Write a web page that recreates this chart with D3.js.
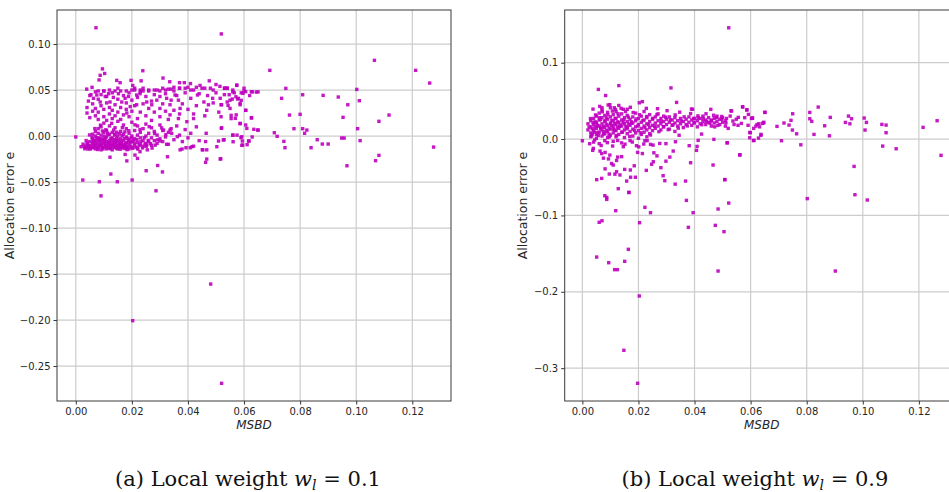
<!DOCTYPE html>
<html>
<head>
<meta charset="utf-8">
<script src="https://cdn.jsdelivr.net/npm/d3@7"></script>
<style>
  body { margin: 0; background: #fff; }
  svg { display: block; }
</style>
</head>
<body>
<script>
// ---- data: [MSBD, allocation error e] ----

// (a) local weight 0.1
var coreA = [
  [0.0019,-0.0116],[0.003,-0.011],[0.004,-0.012],[0.004,-0.009],[0.005,-0.013],[0.005,-0.010],[0.005,-0.006],[0.006,-0.012],[0.006,-0.008],[0.006,-0.003],[0.006,0.002],
  [0.007,-0.014],[0.007,-0.010],[0.007,-0.005],[0.007,0.000],[0.007,0.005],[0.008,-0.013],[0.008,-0.009],[0.008,-0.006],[0.008,-0.002],[0.008,0.003],[0.008,0.008],
  [0.009,-0.015],[0.009,-0.011],[0.009,-0.007],[0.009,-0.003],[0.009,0.001],[0.009,0.010],[0.010,-0.012],[0.010,-0.008],[0.010,-0.004],[0.010,0.000],[0.010,0.004],[0.010,0.014],
  [0.011,-0.014],[0.011,-0.010],[0.011,-0.006],[0.011,-0.001],[0.011,0.006],[0.012,-0.013],[0.012,-0.009],[0.012,-0.005],[0.012,0.002],[0.012,0.011],
  [0.013,-0.015],[0.013,-0.011],[0.013,-0.007],[0.013,-0.002],[0.013,0.004],[0.014,-0.012],[0.014,-0.008],[0.014,-0.004],[0.014,0.001],[0.014,0.009],
  [0.015,-0.014],[0.015,-0.010],[0.015,-0.006],[0.015,0.000],[0.015,0.016],[0.016,-0.012],[0.016,-0.008],[0.016,-0.003],[0.016,0.005],
  [0.017,-0.013],[0.017,-0.009],[0.017,-0.005],[0.017,0.002],[0.017,0.012],[0.018,-0.011],[0.018,-0.007],[0.018,-0.001],[0.018,0.008],
  [0.019,-0.014],[0.019,-0.009],[0.019,-0.004],[0.019,0.003],[0.020,-0.012],[0.020,-0.006],[0.020,0.000],[0.020,0.015],
  [0.021,-0.010],[0.021,-0.003],[0.021,0.006],[0.022,-0.013],[0.022,-0.007],[0.022,0.001],[0.022,0.011],[0.023,-0.009],[0.023,-0.002],[0.023,0.004],
  [0.024,-0.011],[0.024,-0.005],[0.024,0.008],[0.025,-0.008],[0.025,0.000],[0.025,0.013],[0.026,-0.006],[0.026,0.003],[0.027,-0.010],[0.027,-0.002],[0.027,0.009],
  [0.028,-0.005],[0.028,0.005],[0.029,-0.008],[0.029,0.001],[0.030,-0.003],[0.030,0.012],[0.031,-0.006],[0.031,0.006],[0.032,-0.001],[0.033,-0.009],[0.033,0.004],
  [0.034,0.008],[0.035,-0.004],[0.036,0.011],[0.037,0.001],[0.038,-0.006],[0.039,0.007],[0.040,-0.002],[0.041,0.003],[0.042,-0.011],[0.043,0.010],[0.044,-0.005],
  [0.0045,-0.0105],[0.0055,-0.0115],[0.0065,-0.0095],[0.0075,-0.0125],[0.0085,-0.0105],[0.0095,-0.0125],[0.0105,-0.0095],[0.0115,-0.0125],[0.0125,-0.0105],
  [0.0135,-0.0095],[0.0145,-0.0135],[0.0155,-0.0115],[0.0165,-0.0105],[0.0175,-0.0115],[0.0185,-0.0125],[0.0065,-0.0045],[0.0085,-0.0045],[0.0105,-0.0025],
  [0.0125,-0.0025],[0.0145,-0.0025],[0.0165,0.0005],[0.0185,-0.0025],[0.0205,-0.0045],[0.0095,0.0055],[0.0135,0.0065],[0.0175,0.0045],[0.0115,0.0015],[0.0155,0.0025]
];

var fillA = [
  [0.0032,-0.0138],[0.0041,-0.0072],[0.0052,-0.0141],[0.0058,-0.0017],[0.0063,-0.0128],[0.0071,-0.0079],[0.0078,-0.0146],[0.0082,-0.0031],[0.0091,-0.0089],
  [0.0097,-0.0141],[0.0102,-0.0058],[0.0108,-0.0116],[0.0113,0.0031],[0.0119,-0.0071],[0.0124,-0.0138],[0.0131,-0.0049],[0.0137,-0.0122],[0.0142,-0.0066],
  [0.0148,-0.0098],[0.0153,-0.0041],[0.0159,-0.0143],[0.0163,-0.0062],[0.0169,-0.0119],[0.0173,-0.0027],[0.0178,-0.0086],[0.0183,-0.0148],[0.0188,-0.0058],
  [0.0194,-0.0109],[0.0198,-0.0019],[0.0203,-0.0134],[0.0209,-0.0077],[0.0214,-0.0121],[0.0218,-0.0038],[0.0226,-0.0102],[0.0232,-0.0061],[0.0238,-0.0129],
  [0.0244,-0.0018],[0.0251,-0.0112],[0.0258,-0.0047],[0.0266,-0.0083],[0.0272,-0.0131],[0.0283,-0.0099],[0.0291,-0.0041],[0.0037,-0.0049],[0.0049,0.0012],
  [0.0068,0.0081],[0.0088,0.0118],[0.0107,0.0068],[0.0128,0.0138],[0.0146,0.0042],[0.0166,0.0091],[0.0189,0.0058],[0.0211,0.0122],[0.0229,0.0071],[0.0262,0.0102],
  [0.0281,0.0028],[0.0306,0.0089],[0.0321,0.0015],[0.0026,-0.0088],[0.0034,-0.0122],[0.0043,-0.0141],[0.0061,-0.0061],[0.0074,-0.0021],[0.0094,-0.0039],
  [0.0116,-0.0083],[0.0138,0.0021],[0.0157,-0.0079],[0.0176,-0.0137],[0.0196,-0.0066],[0.0221,-0.0141],[0.0247,-0.0087]
];

var upperA = [
  [0.004,0.025],[0.004,0.031],[0.005,0.020],[0.005,0.044],[0.006,0.027],[0.006,0.035],[0.007,0.022],[0.007,0.030],[0.007,0.048],[0.008,0.018],[0.008,0.026],[0.008,0.040],
  [0.009,0.033],[0.009,0.045],[0.010,0.021],[0.010,0.029],[0.010,0.049],[0.011,0.017],[0.011,0.036],[0.011,0.043],[0.012,0.024],[0.012,0.031],[0.013,0.019],[0.013,0.028],
  [0.013,0.047],[0.014,0.034],[0.014,0.022],[0.015,0.040],[0.015,0.026],[0.016,0.018],[0.016,0.031],[0.016,0.049],[0.017,0.023],[0.017,0.044],[0.018,0.029],[0.018,0.036],
  [0.019,0.021],[0.019,0.047],[0.020,0.027],[0.020,0.039],[0.021,0.033],[0.021,0.050],[0.022,0.019],[0.022,0.042],[0.023,0.026],[0.023,0.048],[0.024,0.035],[0.024,0.052],
  [0.025,0.022],[0.025,0.043],[0.026,0.030],[0.026,0.049],[0.027,0.017],[0.027,0.038],[0.028,0.045],[0.028,0.026],[0.029,0.050],[0.030,0.021],[0.030,0.043],[0.031,0.035],
  [0.031,0.052],[0.032,0.027],[0.032,0.046],[0.033,0.018],[0.033,0.051],[0.034,0.039],[0.035,0.028],[0.035,0.049],[0.036,0.044],[0.037,0.024],[0.037,0.052],[0.038,0.035],
  [0.039,0.047],[0.040,0.029],[0.040,0.053],[0.041,0.041],[0.042,0.024],[0.042,0.050],[0.043,0.033],[0.044,0.046],[0.045,0.052],[0.046,0.022],[0.047,0.044],[0.048,0.052],
  [0.049,0.036],[0.050,0.047],[0.051,0.026],[0.053,0.045],[0.054,0.052],[0.055,0.030],[0.056,0.048],[0.058,0.041],[0.060,0.052],[0.062,0.044],
  [0.008,0.049],[0.010,0.049],[0.012,0.050],[0.014,0.049],[0.015,0.052],[0.018,0.049],[0.020,0.050],[0.021,0.052],[0.023,0.050],[0.024,0.049],[0.026,0.050],[0.028,0.050],
  [0.030,0.049],[0.032,0.050],[0.034,0.051],[0.035,0.053],[0.037,0.052],[0.039,0.052],[0.041,0.050],[0.043,0.053],[0.046,0.052],[0.049,0.050],[0.053,0.052],[0.054,0.052],
  [0.056,0.050],[0.059,0.047],[0.060,0.049],[0.063,0.048],[0.065,0.048],
  [0.0095,0.073],[0.0103,0.068],[0.0087,0.066],[0.0083,0.061],[0.0239,0.071],[0.0146,0.0605],[0.0158,0.058],[0.0197,0.0605],[0.0203,0.055],[0.0233,0.060],[0.0311,0.063],
  [0.0335,0.059],[0.037,0.058],[0.0387,0.058],[0.0409,0.057],[0.0443,0.055],[0.0476,0.060],[0.050,0.056],[0.0532,0.052],[0.0574,0.055],[0.0039,0.051],[0.0058,0.053],
  [0.0054,0.045],[0.0045,0.038],[0.0063,0.041],[0.0075,0.0446],[0.0087,0.037],[0.0105,0.043],[0.0117,0.046],[0.0122,0.037],[0.0134,0.042],[0.0152,0.046],[0.0164,0.037],
  [0.0176,0.041],[0.0188,0.043],[0.0194,0.032],[0.0182,0.025],[0.0217,0.0446],[0.0229,0.046],[0.0217,0.034],[0.0253,0.037],[0.0271,0.034],[0.0289,0.039],[0.030,0.030],
  [0.0324,0.041],[0.0336,0.034],[0.0354,0.0446],[0.0366,0.039],[0.0372,0.030],[0.0336,0.023],[0.0366,0.019],[0.0396,0.0156],[0.042,0.019],[0.0434,0.0446],[0.0457,0.037],
  [0.0473,0.034],[0.0467,0.028],[0.0488,0.041],[0.0515,0.041],[0.052,0.034],[0.055,0.039],[0.0586,0.0355],[0.0606,0.028],[0.0572,0.023],[0.0554,0.019],[0.052,0.009],
  [0.0586,0.0138],[0.061,0.0083],[0.0627,0.020],[0.065,0.0065]
];

var lowerA = [
  [0.0526,-0.0043],[0.056,0.001],[0.0592,-0.0007],[0.0595,-0.0098],[0.0616,-0.0054],[0.0509,-0.0054],[0.0465,0.003],[0.0463,-0.006],[0.0467,-0.015],[0.0453,-0.015],
  [0.0463,-0.0286],[0.0515,-0.025],[0.0393,-0.0127],[0.0408,-0.0127],[0.0372,-0.015],[0.0362,-0.0007],[0.0342,0.003],[0.0336,0.0065],[0.0313,0.0065],[0.0324,-0.009],
  [0.030,-0.0054],[0.0253,-0.0098],[0.0255,-0.015],[0.0229,-0.017],[0.022,-0.0243],[0.0176,-0.020],[0.0182,-0.027],[0.0122,-0.023],[0.0251,-0.0377],[0.0292,-0.032],
  [0.0327,-0.0225],[0.0125,-0.0413],[0.0025,-0.0478],[0.0084,-0.0497],[0.0148,-0.0497],[0.0201,-0.0478],[0.009,-0.065],[0.0286,-0.0595],[0.0309,-0.039],
  [0.0211,-0.0207],[0.0379,-0.0141],[0.0414,-0.0116],[0.0467,-0.025],[0.0451,-0.0149],[0.0503,-0.0116]
];

var tailA = [
  [0.0692,0.0714],[0.1065,0.0823],[0.1212,0.0714],[0.1262,0.0576],[0.0749,0.0518],[0.0734,0.041],[0.0809,0.0449],[0.0882,0.0442],[0.0936,0.0424],[0.1002,0.0507],
  [0.1011,0.0384],[0.097,0.034],[0.1117,0.0228],[0.0762,0.0228],[0.080,0.0236],[0.0953,0.0203],[0.1081,0.016],[0.0778,0.008],[0.0809,0.008],[0.0824,0.0065],
  [0.0816,0.003],[0.1005,0.008],[0.0708,0.0036],[0.0718,-0.0003],[0.0742,-0.0058],[0.0746,-0.0127],[0.0839,-0.0127],[0.0861,-0.004],[0.0879,-0.0087],[0.090,-0.0087],
  [0.0948,-0.0022],[0.0957,-0.0022],[0.1014,-0.005],[0.0967,-0.0323],[0.1081,-0.021],[0.1069,-0.0268],[0.1276,-0.012],
  [0.0574,0.0554],[0.0531,0.0518],[0.0514,0.054],[0.0547,0.0449],[0.0565,0.047],[0.0571,0.0427],[0.0558,0.0402],[0.0577,0.0402],[0.059,0.0388],[0.0596,0.0464],
  [0.0606,0.0482],[0.0626,0.0482],[0.0644,0.0478],[0.054,0.037],[0.0518,0.034],[0.0543,0.0333],[0.0586,0.034],[0.0606,0.0279],[0.0554,0.0225],[0.0569,0.0192],
  [0.0518,0.021],[0.0626,0.0196],[0.0586,0.0134],[0.0606,0.012],[0.0519,0.0084],[0.0635,0.0073],[0.0649,0.0065],[0.0529,-0.004],[0.056,0.001],[0.0575,0.001],
  [0.0589,-0.0018],[0.0561,-0.0062],[0.0594,-0.0054],[0.0618,-0.0054],[0.0629,-0.001],[0.0592,-0.0101],[0.0611,-0.0094],[0.0517,-0.0247]
];

var outlierA = [[0.0,-0.001],[0.0072,0.1177],[0.0519,0.111],[0.0481,-0.1609],[0.0203,-0.2007],[0.052,-0.2688]];

// (b) local weight 0.9
var coreB = [
  [0.002,0.012],[0.002,0.020],[0.003,0.008],[0.003,0.016],[0.003,0.024],[0.003,0.003],[0.004,0.011],[0.004,0.019],[0.004,0.027],[0.004,-0.004],[0.005,0.006],[0.005,0.014],
  [0.005,0.022],[0.005,0.030],[0.005,0.001],[0.006,0.009],[0.006,0.017],[0.006,0.025],[0.006,0.034],[0.006,-0.006],[0.007,0.004],[0.007,0.012],[0.007,0.020],[0.007,0.028],
  [0.007,0.038],[0.008,0.007],[0.008,0.015],[0.008,0.023],[0.008,0.031],[0.008,-0.002],[0.009,0.010],[0.009,0.018],[0.009,0.026],[0.009,0.035],[0.009,0.002],[0.010,0.013],
  [0.010,0.021],[0.010,0.029],[0.010,0.005],[0.010,0.041],[0.011,0.008],[0.011,0.016],[0.011,0.024],[0.011,0.032],[0.011,-0.003],[0.012,0.011],[0.012,0.019],[0.012,0.027],
  [0.012,0.036],[0.012,0.003],[0.013,0.014],[0.013,0.022],[0.013,0.030],[0.013,0.006],[0.013,0.044],[0.014,0.009],[0.014,0.017],[0.014,0.025],[0.014,0.033],[0.014,-0.005],
  [0.015,0.012],[0.015,0.020],[0.015,0.028],[0.015,0.002],[0.016,0.015],[0.016,0.023],[0.016,0.031],[0.016,0.007],[0.016,0.039],[0.017,0.010],[0.017,0.018],[0.017,0.026],
  [0.017,-0.002],[0.018,0.013],[0.018,0.021],[0.018,0.029],[0.018,0.004],[0.019,0.016],[0.019,0.024],[0.019,0.034],[0.019,0.008],[0.020,0.011],[0.020,0.019],[0.020,0.027],
  [0.020,0.001],[0.021,0.014],[0.021,0.022],[0.021,0.030],[0.021,0.006],[0.022,0.017],[0.022,0.025],[0.022,0.036],[0.022,0.009],[0.023,0.012],[0.023,0.020],[0.023,0.028],
  [0.023,0.003],[0.024,0.015],[0.024,0.023],[0.024,0.032],[0.024,0.007],[0.025,0.018],[0.025,0.026],[0.025,0.011],[0.026,0.021],[0.026,0.029],[0.026,0.014],[0.027,0.017],
  [0.027,0.024],[0.027,0.033],[0.028,0.020],[0.028,0.027],[0.028,0.012],[0.029,0.023],[0.029,0.030],[0.029,0.016],[0.030,0.019],[0.030,0.026],[0.031,0.022],[0.031,0.029],
  [0.031,0.013],[0.032,0.018],[0.032,0.025],[0.033,0.021],[0.033,0.028],[0.033,0.010],[0.034,0.024],[0.034,0.017],[0.035,0.020],[0.035,0.027],[0.036,0.023],[0.036,0.015],
  [0.037,0.026],[0.037,0.019],[0.038,0.022],[0.038,0.029],[0.039,0.018],[0.039,0.025],[0.040,0.021],[0.040,0.027],[0.041,0.024],[0.041,0.016],[0.042,0.020],[0.042,0.027],
  [0.043,0.023],[0.043,0.030],[0.044,0.019],[0.044,0.025],[0.045,0.022],[0.045,0.028],[0.046,0.024],[0.046,0.017],[0.047,0.021],[0.047,0.027],[0.048,0.023],[0.048,0.030],
  [0.049,0.019],[0.049,0.026],[0.050,0.022],[0.050,0.028],[0.051,0.024],[0.051,0.017],
  [0.0035,0.0135],[0.0045,0.0155],[0.0055,0.0175],[0.0065,0.0135],[0.0075,0.0165],[0.0085,0.0195],[0.0095,0.0145],[0.0105,0.0175],[0.0115,0.0205],[0.0125,0.0155],
  [0.0135,0.0185],[0.0145,0.0215],[0.0155,0.0165],[0.0165,0.0195],[0.0175,0.0225],[0.0045,0.0225],[0.0065,0.0255],[0.0085,0.0275],[0.0105,0.0245],[0.0125,0.0225],
  [0.0035,0.0065],[0.0055,0.0085],[0.0075,0.0095],[0.0095,0.0065],[0.0115,0.0115]
];

var fillB = [
  [0.0024,0.0157],[0.0029,0.0268],[0.0033,0.0041],[0.0038,0.0213],[0.0043,0.0089],[0.0047,0.0316],[0.0052,0.0187],[0.0057,0.0046],[0.0061,0.0281],[0.0066,0.0152],
  [0.0071,0.0357],[0.0076,0.0068],[0.0081,0.0239],[0.0086,0.0112],[0.0091,0.0318],[0.0096,0.0028],[0.0101,0.0198],[0.0107,0.0367],[0.0112,0.0127],[0.0117,0.0271],
  [0.0122,0.0047],[0.0127,0.0331],[0.0133,0.0168],[0.0138,0.0402],[0.0143,0.0091],[0.0148,0.0253],[0.0154,0.0361],[0.0159,0.0136],[0.0164,0.0287],[0.0169,0.0034],
  [0.0175,0.0206],[0.0181,0.0348],[0.0186,0.0112],[0.0192,0.0263],[0.0198,0.0171],[0.0204,0.0318],[0.0209,0.0082],[0.0216,0.0241],[0.0223,0.0147],[0.0229,0.0296],
  [0.0236,0.0188],[0.0243,0.0053],[0.0251,0.0271],[0.0258,0.0168],[0.0266,0.0321],[0.0273,0.0097],[0.0281,0.0232],[0.0289,0.0162],[0.0297,0.0287],[0.0306,0.0124],
  [0.0314,0.0251],[0.0323,0.0186],[0.0331,0.0316],[0.0342,0.0143],[0.0352,0.0238],[0.0363,0.0291],[0.0374,0.0172],[0.0386,0.0334],[0.0398,0.0219],[0.0412,0.0304],
  [0.0426,0.0188],[0.0441,0.0331],[0.0455,0.0207],[0.0468,0.0312],[0.0483,0.0179],[0.0497,0.0296],[0.0512,0.0212],[0.0527,0.0301],[0.0541,0.0191],[0.0556,0.0284],
  [0.0026,-0.0061],[0.0044,-0.0012],[0.0067,-0.0084],[0.0089,-0.0047],[0.0108,-0.0091],[0.0126,-0.0018],[0.0152,-0.0067],[0.0178,-0.0039],[0.0201,-0.0102],
  [0.0223,-0.0021],[0.0252,-0.0079],[0.0038,0.0392],[0.0062,0.0428],[0.0092,0.0446],[0.0118,0.0386],[0.0171,0.0416],[0.0228,0.0402],[0.0268,0.0398],[0.0302,0.0372],
  [0.0347,0.0352]
];

var bandB = [
  [0.0397,0.027],[0.0413,0.028],[0.0431,0.027],[0.0442,0.0227],[0.046,0.0249],[0.0472,0.016],[0.0478,0.028],[0.0496,0.026],[0.0514,0.027],[0.052,0.014],[0.0537,0.0236],
  [0.0549,0.026],[0.0555,0.018],[0.0567,0.0205],[0.0579,0.028],[0.0591,0.018],[0.0603,0.027],[0.0611,0.014],[0.0623,0.019],[0.0632,0.016],[0.0642,0.0205],[0.0647,0.022],
  [0.0597,0.0087],[0.061,-0.002],[0.0637,0.005],[0.0425,0.0065],
  [0.0057,0.065],[0.013,0.070],[0.0083,0.057],[0.0316,0.067],[0.0336,0.048],[0.0203,0.0475],[0.0214,0.049],[0.007,0.041],[0.0098,0.045],[0.0114,0.041],[0.0146,0.039],
  [0.0393,0.039],[0.053,0.037],[0.0572,0.042],[0.0586,0.038],[0.0651,0.035],[0.0606,0.0275],[0.0458,0.0389],[0.0389,0.0393],
  [0.0532,0.0367],[0.0571,0.0423],[0.0587,0.0384],[0.0592,0.0323],[0.0651,0.0349],[0.0607,0.0275],[0.0599,0.0083],[0.0597,0.0017],[0.0612,-0.0017],[0.0628,0.0013],
  [0.0637,0.0061],[0.0619,0.017],[0.0629,0.020],[0.0646,0.021],[0.0517,-0.0048],[0.0562,-0.0205]
];

var lowerB = [
  [0.0413,-0.0017],[0.0469,-0.0004],[0.0516,-0.005],[0.0561,-0.021],[0.0466,-0.034],[0.0508,-0.053],[0.0386,-0.031],[0.0368,-0.055],[0.0331,-0.059],[0.0294,-0.0545],
  [0.0288,-0.048],[0.028,-0.0375],[0.0312,-0.0236],[0.0324,-0.0157],[0.0298,-0.006],[0.0332,-0.0035],[0.0409,-0.0096],[0.0407,-0.0148],[0.0381,-0.0087],[0.0345,0.005],
  [0.0298,-0.029],[0.0266,-0.022],[0.0255,-0.018],[0.0253,-0.0297],[0.0247,-0.033],[0.0228,-0.041],[0.0185,-0.035],[0.0189,-0.050],[0.0172,-0.050],[0.0166,-0.070],
  [0.0128,-0.065],[0.0158,-0.055],[0.0171,-0.0405],[0.0151,-0.0397],[0.0134,-0.047],[0.0116,-0.046],[0.0096,-0.0458],[0.0081,-0.039],[0.0051,-0.0532],[0.0069,-0.0515],
  [0.011,-0.034],[0.0104,-0.032],[0.0093,-0.026],[0.0075,-0.025],[0.0069,-0.019],[0.0081,-0.0175],[0.0098,-0.021],[0.0063,-0.0157],[0.0039,-0.0122],[0.0037,-0.0148],
  [0.014,-0.023],[0.0146,-0.010],[0.0126,-0.0236],[0.0122,-0.0428],[0.0122,-0.028],[0.0193,-0.0087],[0.0197,-0.0175],[0.0214,-0.019],[0.0219,-0.0065],[0.0243,-0.007],
  [0.0231,-0.002],[0.0276,-0.0057],
  [0.008,-0.0742],[0.0087,-0.0764],[0.0087,-0.079],[0.0166,-0.0698],[0.0119,-0.0938],[0.006,-0.109],[0.007,-0.107],[0.0204,-0.1095],[0.0223,-0.0894],[0.0243,-0.0964],
  [0.0371,-0.0803],[0.0395,-0.0964],[0.0378,-0.1156],[0.0484,-0.0916],[0.0522,-0.0838],[0.0474,-0.113],[0.0505,-0.1213],[0.0164,-0.1444],[0.0051,-0.1545],
  [0.0094,-0.1619],[0.0151,-0.1601],[0.0115,-0.171],[0.0125,-0.171],[0.0508,-0.0532]
];

var tailB = [
  [0.0694,0.0166],[0.071,-0.0022],[0.0719,0.021],[0.0737,0.0183],[0.0744,0.0245],[0.0749,0.0118],[0.075,0.0331],[0.0764,0.0069],[0.0779,-0.0075],[0.0811,0.0349],
  [0.0811,0.0266],[0.0818,0.0232],[0.0841,0.0419],[0.0826,0.0061],[0.0864,0.0174],[0.0881,0.0043],[0.0884,0.0284],[0.0938,0.0218],[0.0949,0.0301],[0.0954,0.020],
  [0.096,0.0266],[0.0969,-0.0358],[0.0972,-0.0729],[0.1005,0.0275],[0.1013,0.0218],[0.1008,0.0118],[0.1016,-0.0798],[0.1068,0.0192],[0.1083,0.0183],[0.1083,0.0083],
  [0.1071,-0.0092],[0.1119,-0.0127],[0.1215,0.0153],[0.1265,0.024],[0.1279,-0.0213],[0.0802,-0.078]
];

var outlierB = [[0.0,-0.0022],[0.0522,0.1457],[0.0203,-0.2055],[0.0148,-0.2766],[0.0197,-0.3198],[0.0902,-0.1728],[0.0484,-0.1728]];

var xTicks = [0, 0.02, 0.04, 0.06, 0.08, 0.10, 0.12];
var yTicksA = [-0.25, -0.20, -0.15, -0.10, -0.05, 0.00, 0.05, 0.10];
var yTicksB = [-0.3, -0.2, -0.1, 0.0, 0.1];
var captions = ["(a) Local weight ", "(b) Local weight "];
var weights = ["0.1", "0.9"];

// ---- drawing ----
var width = 949, height = 492;
var dotColour = "#bf00bf";
var gridColour = "#cccccc";
var textColour = "#262626";
var plotTop = 10, plotBottom = 401;

var svg = d3.select("body").append("svg")
  .attr("width", width)
  .attr("height", height)
  .style("background", "#fff");

var panels = [
  { left: 57, right: 451, xDom: [-0.0067, 0.1338], yDom: [-0.288, 0.137], yTicks: yTicksA, yFmt: ".2f",
    points: coreA.concat(fillA, upperA, lowerA, tailA, outlierA), capX: 248, labelGap: 43 },
  { left: 564.7, right: 958.7, xDom: [-0.0063, 0.1342], yDom: [-0.343, 0.169], yTicks: yTicksB, yFmt: ".1f",
    points: coreB.concat(fillB, bandB, lowerB, tailB, outlierB), capX: 755, labelGap: 38 }
];

panels.forEach(function(p, i) {
  var x = d3.scaleLinear().domain(p.xDom).range([p.left, p.right]);
  var y = d3.scaleLinear().domain(p.yDom).range([plotBottom, plotTop]);
  var g = svg.append("g");

  // grid
  g.selectAll(".gx").data(xTicks).enter().append("line")
    .attr("x1", function(d){ return x(d); }).attr("x2", function(d){ return x(d); })
    .attr("y1", plotTop).attr("y2", plotBottom)
    .attr("stroke", gridColour).attr("stroke-width", 1.2);
  g.selectAll(".gy").data(p.yTicks).enter().append("line")
    .attr("x1", p.left).attr("x2", p.right)
    .attr("y1", function(d){ return y(d); }).attr("y2", function(d){ return y(d); })
    .attr("stroke", gridColour).attr("stroke-width", 1.2);

  // points
  var s = 3.4;
  g.selectAll("rect.pt").data(p.points).enter().append("rect")
    .attr("class", "pt")
    .attr("x", function(d){ return x(d[0]) - s/2; })
    .attr("y", function(d){ return y(d[1]) - s/2; })
    .attr("width", s).attr("height", s)
    .attr("fill", dotColour)
    .attr("fill-opacity", 0.9);

  // axes
  var xAxis = d3.axisBottom(x).tickValues(xTicks).tickFormat(d3.format(".2f")).tickSize(3.5).tickPadding(3);
  var yAxis = d3.axisLeft(y).tickValues(p.yTicks).tickFormat(d3.format(p.yFmt)).tickSize(3.5).tickPadding(3);

  var ax = g.append("g").attr("transform", "translate(0," + plotBottom + ")").call(xAxis);
  var ay = g.append("g").attr("transform", "translate(" + p.left + ",0)").call(yAxis);
  [ax, ay].forEach(function(a) {
    a.select(".domain").remove();
    a.selectAll("line").attr("stroke", "#333");
    a.selectAll("text").attr("fill", textColour)
      .style("font-family", "DejaVu Sans, sans-serif").style("font-size", "10px");
  });

  // frame
  g.append("rect")
    .attr("x", p.left).attr("y", plotTop)
    .attr("width", p.right - p.left).attr("height", plotBottom - plotTop)
    .attr("fill", "none").attr("stroke", "#3a3a3a").attr("stroke-width", 1);

  // labels
  g.append("text")
    .attr("x", (p.left + p.right) / 2).attr("y", 429)
    .attr("text-anchor", "middle")
    .attr("fill", textColour)
    .style("font-family", "DejaVu Sans, sans-serif").style("font-size", "12px").style("font-style", "italic")
    .text("MSBD");

  g.append("text")
    .attr("transform", "translate(" + (p.left - p.labelGap) + "," + ((plotTop + plotBottom) / 2) + ") rotate(-90)")
    .attr("text-anchor", "middle")
    .attr("fill", textColour)
    .style("font-family", "DejaVu Sans, sans-serif").style("font-size", "12.5px")
    .text("Allocation error e");

  // caption
  var cap = svg.append("text")
    .attr("x", p.capX).attr("y", 486)
    .attr("text-anchor", "middle")
    .attr("fill", "#111")
    .style("font-family", "DejaVu Serif, serif").style("font-size", "21px");
  cap.append("tspan").text(captions[i]);
  cap.append("tspan").style("font-style", "italic").text("w");
  cap.append("tspan").style("font-style", "italic").style("font-size", "14px").attr("dy", 4).text("l");
  cap.append("tspan").attr("dy", -4).text(" = " + weights[i]);
});
</script>
</body>
</html>
